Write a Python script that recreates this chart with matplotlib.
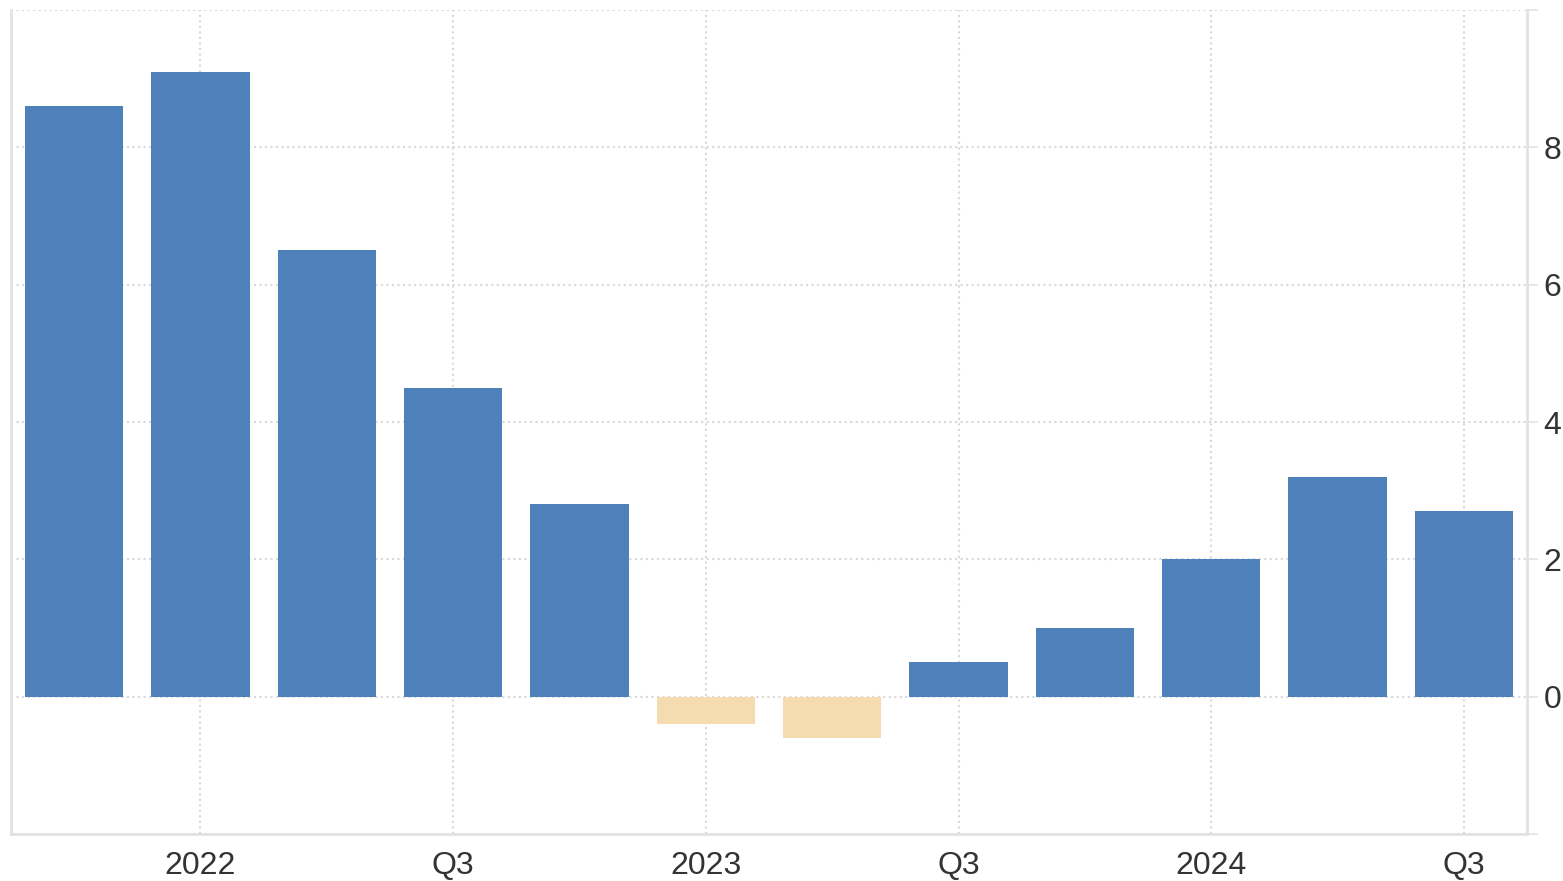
import matplotlib
matplotlib.use('Agg')
import matplotlib.pyplot as plt
import numpy as np

# quarterly values, 2021 Q4 .. 2024 Q3
quarters = ['2021Q4', '2022Q1', '2022Q2', '2022Q3', '2022Q4', '2023Q1',
            '2023Q2', '2023Q3', '2023Q4', '2024Q1', '2024Q2', '2024Q3']
values = [8.6, 9.1, 6.5, 4.5, 2.8, -0.4, -0.6, 0.5, 1.0, 2.0, 3.2, 2.7]
tick_idx = [1, 3, 5, 7, 9, 11]
tick_labels = ['2022', 'Q3', '2023', 'Q3', '2024', 'Q3']
ytick_vals = [-2, 0, 2, 4, 6, 8, 10]
ytick_labels = ['', '0', '2', '4', '6', '8', '']

plt.rcParams['font.family'] = ['Liberation Sans', 'DejaVu Sans']

fig = plt.figure(figsize=(15.63, 8.81), dpi=100)
ax = fig.add_axes([0.007, 0.0533, 0.970, 0.9353])

x = np.arange(len(values))
cols = ['#4e80b9' if v >= 0 else '#f4dcb0' for v in values]
ax.bar(x, values, width=0.78, color=cols, zorder=3)

ax.set_xlim(-0.5, 11.5)
ax.set_ylim(-2, 10)
ax.set_xticks(tick_idx)
ax.set_xticklabels(tick_labels)
ax.set_yticks(ytick_vals)
ax.set_yticklabels(ytick_labels)
ax.yaxis.tick_right()

ax.grid(True, linestyle=':', color='#d8d8d8', linewidth=1.5, zorder=0)
ax.tick_params(axis='x', length=0, pad=12, labelsize=23, labelcolor='#333333')
ax.tick_params(axis='y', length=8, width=1.2, color='#e2e2e2', pad=4, labelsize=23,
               labelcolor='#333333')

ax.spines['top'].set_visible(False)
for s in ['left', 'right', 'bottom']:
    ax.spines[s].set_color('#e2e2e2')
    ax.spines[s].set_linewidth(2)

fig.savefig('out.png', dpi=100)
